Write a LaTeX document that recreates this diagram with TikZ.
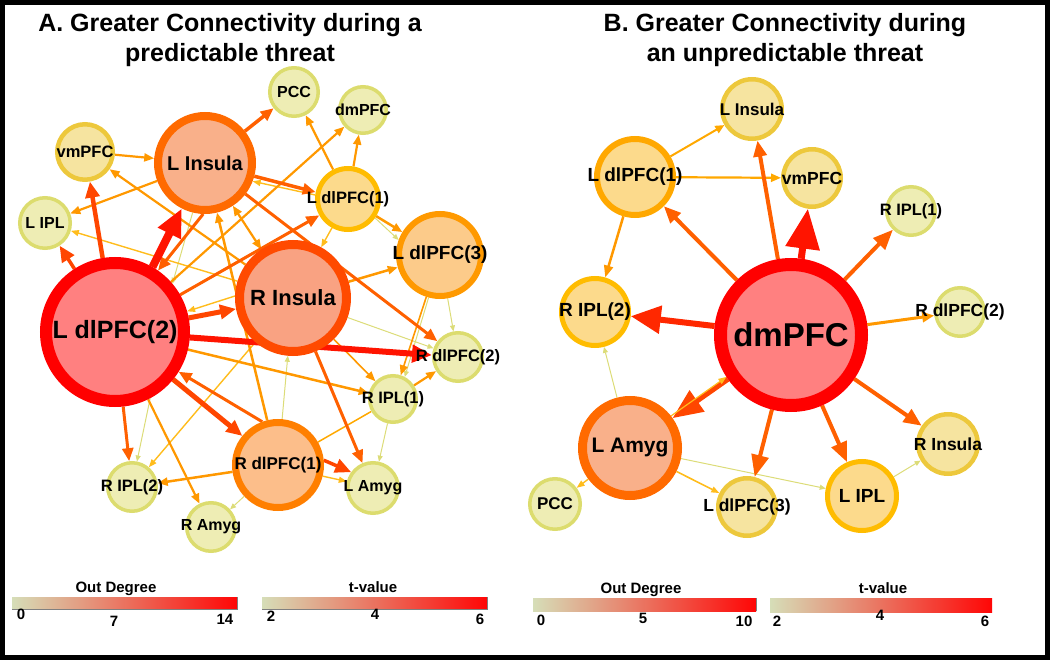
\documentclass[tikz,border=0pt]{standalone}
\usepackage{fontspec}
\setmainfont{Liberation Sans}
\usetikzlibrary{arrows.meta,backgrounds}
\definecolor{cRedF}{HTML}{FF8080}
\definecolor{cRedB}{HTML}{FF0000}
\definecolor{cRinsF}{HTML}{F9A282}
\definecolor{cRinsB}{HTML}{FF4A00}
\definecolor{cLinsF}{HTML}{F9B08A}
\definecolor{cLinsB}{HTML}{FF6A00}
\definecolor{cRdlF}{HTML}{FCBE8A}
\definecolor{cRdlB}{HTML}{FF7F00}
\definecolor{cLdlThF}{HTML}{FCCB8A}
\definecolor{cLdlThB}{HTML}{FF9900}
\definecolor{cGoldF}{HTML}{FCDA8C}
\definecolor{cGoldB}{HTML}{FFBC00}
\definecolor{cYelF}{HTML}{F6E4A0}
\definecolor{cYelB}{HTML}{EDC83C}
\definecolor{cSmF}{HTML}{EEEDB4}
\definecolor{cSmB}{HTML}{DCDC6E}
\definecolor{cE1}{HTML}{FF1400}
\definecolor{cE1b}{HTML}{FF2800}
\definecolor{cE2}{HTML}{FF4600}
\definecolor{cE3}{HTML}{FF6000}
\definecolor{cE4}{HTML}{FF9800}
\definecolor{cE4b}{HTML}{FFA800}
\definecolor{cE5}{HTML}{FFBC1C}
\definecolor{cE6}{HTML}{DCDC78}
\definecolor{cL1}{HTML}{D6DEB8}
\definecolor{cL2}{HTML}{E8917E}
\definecolor{cL3}{HTML}{FF0606}
\begin{document}
\begin{tikzpicture}[x=1pt,y=-1pt,
  nd/.style={circle, inner sep=0pt},
  nRed/.style={nd, draw=cRedB, fill=cRedF, line width=12pt},
  nRins/.style={nd, draw=cRinsB, fill=cRinsF, line width=9pt},
  nLins/.style={nd, draw=cLinsB, fill=cLinsF, line width=8pt},
  nRdl/.style={nd, draw=cRdlB, fill=cRdlF, line width=7pt},
  nLdlTh/.style={nd, draw=cLdlThB, fill=cLdlThF, line width=6pt},
  nGold/.style={nd, draw=cGoldB, fill=cGoldF, line width=5pt},
  nYel/.style={nd, draw=cYelB, fill=cYelF, line width=4.5pt},
  nSm/.style={nd, draw=cSmB, fill=cSmF, line width=3.5pt},
  lbl/.style={font=\bfseries\fontsize{#1}{#1}\selectfont, text=black},
  ttl/.style={font=\bfseries\fontsize{25}{28}\selectfont, anchor=base},
  leg/.style={font=\bfseries\fontsize{15}{15}\selectfont, anchor=base},
  ed/.style n args={4}{draw=#1, line width=#2, -{Triangle[length=#3,width=#4]}},
  eRR/.style={ed={cE1}{8pt}{28pt}{24pt}},
  eR/.style={ed={cE1}{6pt}{20pt}{17pt}},
  eOR/.style={ed={cE2}{4.5pt}{16pt}{14pt}},
  eDO/.style={ed={cE3}{3pt}{13pt}{11pt}},
  eO/.style={ed={cE4}{2.2pt}{10pt}{8pt}},
  eY/.style={ed={cE5}{1.4pt}{8pt}{6pt}},
  eG/.style={ed={cE6}{1pt}{6pt}{5pt}},
  eLine/.style={draw=cE4b, line width=1.5pt}
]
\useasboundingbox (0,0) rectangle (1050,660);
\draw[black, line width=5pt] (2.5,2.5) rectangle (1047.5,657.5);

% titles
\node[ttl] (tA1) at (230,32) {A. Greater Connectivity during a};
\node[ttl] (tA2) at (230,62) {predictable threat};
\node[ttl] (tB1) at (785,32) {B. Greater Connectivity during};
\node[ttl] (tB2) at (785,62) {an unpredictable threat};

% ---------- panel A nodes ----------
\node[nRed, minimum size=138pt, label={[lbl=25]center:L dlPFC(2)}] (aLdl2) at (115,332) {};
\node[nRins, minimum size=107pt, label={[lbl=22]center:R Insula}] (aRins) at (293,298) {};
\node[nLins, minimum size=94pt, label={[lbl=20]center:L Insula}] (aLins) at (205,163) {};
\node[nRdl, minimum size=85pt, label={[lbl=17]center:R dlPFC(1)}] (aRdl1) at (278,465) {};
\node[nLdlTh, minimum size=82pt, label={[lbl=19]center:L dlPFC(3)}] (aLdl3) at (440,255) {};
\node[nGold, minimum size=61pt, label={[lbl=16.5]center:L dlPFC(1)}] (aLdl1) at (348,199) {};
\node[nYel, minimum size=55.5pt, label={[lbl=16.5]center:vmPFC}] (aVm) at (85,152) {};
\node[nSm, minimum size=48.5pt, label={[lbl=16]center:PCC}] (aPcc) at (294,92) {};
\node[nSm, minimum size=46.5pt, label={[lbl=16]center:dmPFC}] (aDm) at (363,110) {};
\node[nSm, minimum size=50.5pt, label={[lbl=16]center:L IPL}] (aLipl) at (45,223) {};
\node[nSm, minimum size=48.5pt, label={[lbl=16.5]center:R dlPFC(2)}] (aRdl2) at (458,357) {};
\node[nSm, minimum size=46.5pt, label={[lbl=16.5]center:R IPL(1)}] (aRipl1) at (393,399) {};
\node[nSm, minimum size=48.5pt, label={[lbl=16.5]center:R IPL(2)}] (aRipl2) at (132,487) {};
\node[nSm, minimum size=50.5pt, label={[lbl=16]center:L Amyg}] (aLamy) at (373,488) {};
\node[nSm, minimum size=48.5pt, label={[lbl=16]center:R Amyg}] (aRamy) at (211,527) {};

% ---------- panel B nodes ----------
\node[nRed, minimum size=141pt, line width=13pt, label={[lbl=33]center:dmPFC}] (bDm) at (791,335) {};
\node[nLins, minimum size=95pt, line width=9pt, label={[lbl=21]center:L Amyg}] (bLamy) at (630,448) {};
\node[nGold, draw=cE4b, fill=cGoldF, line width=6pt, minimum size=76pt, label={[lbl=19]center:L dlPFC(1)}] (bLdl1) at (635,177) {};
\node[nGold, minimum size=67pt, label={[lbl=19]center:R IPL(2)}] (bRipl2) at (595,312) {};
\node[nGold, minimum size=69pt, label={[lbl=19]center:L IPL}] (bLipl) at (862,496) {};
\node[nYel, minimum size=59.5pt, label={[lbl=17]center:L Insula}] (bLins) at (752,109) {};
\node[nYel, minimum size=57.5pt, label={[lbl=17.5]center:vmPFC}] (bVm) at (812,178) {};
\node[nYel, minimum size=59.5pt, label={[lbl=17.5]center:R Insula}] (bRins) at (948,444) {};
\node[nYel, minimum size=57.5pt, label={[lbl=17.5]center:L dlPFC(3)}] (bLdl3) at (747,507) {};
\node[nSm, minimum size=50.5pt, label={[lbl=17]center:PCC}] (bPcc) at (555,504) {};
\node[nSm, minimum size=48.5pt, label={[lbl=16.5]center:R IPL(1)}] (bRipl1) at (911,211) {};
\node[nSm, minimum size=48.5pt, label={[lbl=17.5]center:R dlPFC(2)}] (bRdl2) at (960,312) {};

\begin{pgfonlayer}{background}
% ---------- panel A edges ----------
\draw[eG] (aLins.256) -- (aLdl2.40);
\draw[eG] (aLdl2.-62) -- (aRipl2.79);
\draw[eG] (aRins) -- (aRdl2);
\draw[eG] (aLdl3) -- (aRdl2);
\draw[eG] (aLdl3.-105) -- (aRipl1.62);
\draw[eG] (aRipl1) -- (aLamy);
\draw[eG] (aRdl1) -- (aRamy);
\draw[eG] (aRdl1) -- (aRins);
\draw[eG] (aLdl1.-35) -- (aLdl3.160);
\draw[eY] (aLdl1) -- (aRins);
\draw[eY] (aLdl1.173) -- (aLins.-21);
\draw[eY] (aRins) -- (aLipl);
\draw[eY] (aRins.178) -- (aLdl2.16);
\draw[eY] (aRins) -- (aRipl2);
\draw[eY] (aRdl1.-14) -- (aLamy.166);
\draw[eLine] (aRipl1) -- (aRdl1);
\draw[eO] (aVm) -- (aLins);
\draw[eO] (aLins) -- (aLipl);
\draw[eO] (aRins) -- (aVm);
\draw[eO] (aLdl1) -- (aPcc);
\draw[eO] (aLdl1) -- (aDm);
\draw[eO] (aLdl2) -- (aDm);
\draw[eO, {Triangle[length=10pt,width=8pt]}-{Triangle[length=10pt,width=8pt]}] (aLins) -- (aRins);
\draw[eO, line width=2.5pt] (aRdl1) -- (aLins);
\draw[eO, line width=2.5pt] (aLdl1) -- (aLdl3);
\draw[eO, line width=2.5pt] (aRins) -- (aLdl3);
\draw[eO, line width=2.5pt] (aLdl2) -- (aRipl1);
\draw[eO] (aLdl2) -- (aRamy);
\draw[eO, line width=2.5pt] (aRdl1) -- (aRipl2);
\draw[eO, line width=1.6pt] (aRins) -- (aRipl1);
\draw[eO, line width=1.6pt] (aLdl3) -- (aRipl1);
\draw[eO] (aRipl1) -- (aRdl2);
\draw[eDO] (aLins.268) -- (aLdl2.55);
\draw[eDO, line width=3.5pt] (aLins) -- (aPcc);
\draw[eDO, line width=3.5pt] (aLins.-15) -- (aLdl1.168);
\draw[eDO] (aLdl2) -- (aLdl1);
\draw[eDO] (aLins) -- (aRdl2);
\draw[eDO] (aRdl1.110) -- (aLdl2.-32);
\draw[eDO] (aLdl2) -- (aRipl2);
\draw[eDO] (aRins) -- (aLamy);
\draw[eOR, line width=3.5pt] (aLdl2) -- (aLipl);
\draw[eOR, line width=3.5pt] (aRdl1.6) -- (aLamy.144);
\draw[eOR] (aLdl2) -- (aVm);
\draw[eOR, line width=5pt] (aLdl2) -- (aRins);
\draw[eOR, line width=5pt] (aLdl2) -- (aRdl1);
\draw[eR] (aLdl2) -- (aRdl2);
\draw[eRR] (aLdl2.60) -- (aLins.243);

% ---------- panel B edges ----------
\draw[eG] (bLamy) -- (bRipl2);
\draw[eG] (bLamy) -- (bLipl);
\draw[eG] (bLipl) -- (bRins);
\draw[eY] (bLamy) -- (bPcc);
\draw[eY, line width=1.6pt] (bLamy) -- (bLdl3);
\draw[ed={cE4b}{2pt}{9pt}{8pt}] (bLdl1) -- (bLins);
\draw[ed={cE4b}{2.2pt}{10pt}{8pt}] (bLdl1) -- (bVm);
\draw[ed={cE4}{2.5pt}{12pt}{9pt}] (bLdl1) -- (bRipl2);
\draw[ed={cE4}{3pt}{12pt}{10pt}] (bDm) -- (bRdl2);
\draw[ed={cE3}{4pt}{16pt}{13pt}] (bDm) -- (bLins);
\draw[ed={cE3}{4pt}{17pt}{14pt}] (bDm) -- (bLdl1);
\draw[ed={cE3}{4pt}{20pt}{16pt}] (bDm) -- (bRipl1);
\draw[ed={cE3}{4pt}{22pt}{17pt}] (bDm) -- (bLdl3);
\draw[ed={cE3}{4pt}{20pt}{16pt}] (bDm) -- (bLipl);
\draw[ed={cE3}{4pt}{18pt}{15pt}] (bDm) -- (bRins);
\draw[ed={cE2}{5pt}{30pt}{25pt}] (bDm) -- (bLamy);
\draw[eY, line width=1.2pt] (bLamy.38) -- (bDm.213);
\draw[ed={cE1b}{6pt}{30pt}{27pt}] (bDm) -- (bRipl2);
\draw[ed={cE1}{7pt}{40pt}{33pt}] (bDm) -- (bVm);
\end{pgfonlayer}

% ---------- legends ----------
\shade[left color=cL1, middle color=cL2, right color=cL3] (12,597) rectangle (237,609);
\draw[gray, line width=1pt] (12,609) -- (237,609) -- (237,597);
\node[leg] (lA1) at (116,592) {Out Degree};
\node[leg] (lA1a) at (21,619) {0};
\node[leg] (lA1b) at (114,626) {7};
\node[leg] (lA1c) at (225,624) {14};
\shade[left color=cL1, middle color=cL2, right color=cL3] (262,597) rectangle (487,609);
\draw[gray, line width=1pt] (262,609) -- (487,609) -- (487,597);
\node[leg] (lA2) at (373,592) {t-value};
\node[leg] (lA2a) at (271,621) {2};
\node[leg] (lA2b) at (375,619) {4};
\node[leg] (lA2c) at (480,624) {6};

\shade[left color=cL1, middle color=cL2, right color=cL3] (533,598) rectangle (756,611);
\draw[gray, line width=1pt] (756,598) -- (756,611);
\node[leg] (lB1) at (641,593) {Out Degree};
\node[leg] (lB1a) at (541,625) {0};
\node[leg] (lB1b) at (643,623) {5};
\node[leg] (lB1c) at (744,626) {10};
\shade[left color=cL1, middle color=cL2, right color=cL3] (770,598) rectangle (992,612);
\node[leg] (lB2) at (883,593) {t-value};
\node[leg] (lB2a) at (777,626) {2};
\node[leg] (lB2b) at (880,620) {4};
\node[leg] (lB2c) at (985,626) {6};
\end{tikzpicture}
\end{document}
